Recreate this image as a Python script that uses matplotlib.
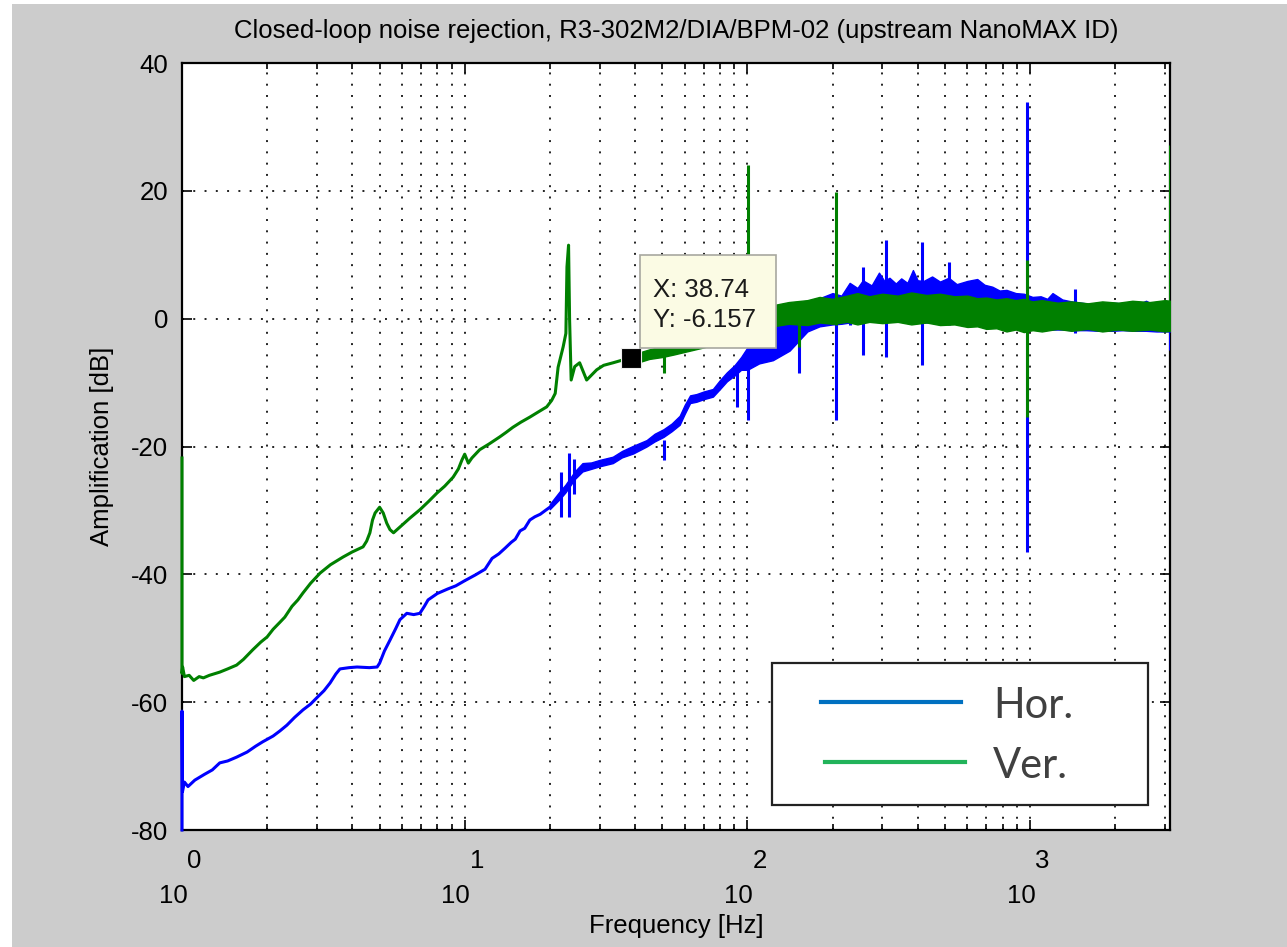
import matplotlib
matplotlib.use("Agg")
import matplotlib.pyplot as plt
import matplotlib.transforms as mtransforms
from matplotlib.patches import Rectangle
from matplotlib.lines import Line2D
from matplotlib.ticker import LogLocator, NullFormatter, FixedLocator

# ---------------- data ----------------
# Horizontal (Hor.) trace, low-frequency part
hor_f = [1.0, 1.0, 1.004, 1.02, 1.05, 1.11, 1.2, 1.28, 1.36, 1.45, 1.56, 1.7, 1.82, 1.93, 2.1,
         2.22, 2.35, 2.5, 2.68, 2.85, 3.0, 3.18, 3.34, 3.5, 3.62, 3.9, 4.16, 4.6, 4.9, 5.0,
         5.2, 5.44, 5.7, 5.9, 6.24, 6.6, 6.94, 7.2, 7.42, 8.0, 8.7, 9.3, 10.0, 10.9, 11.8,
         12.5, 13.2, 13.9, 14.6, 15.1, 15.7, 16.3, 17.0, 17.7, 18.5, 19.3, 20.0]
hor_db = [-80, -61.4, -74.0, -72.5, -73.2, -72.2, -71.3, -70.6, -69.5, -69.2, -68.6, -67.8, -66.9, -66.2, -65.3,
          -64.5, -63.6, -62.4, -61.2, -60.3, -59.3, -58.2, -57.0, -55.6, -54.8, -54.6, -54.5, -54.6, -54.5, -53.9,
          -52.0, -50.3, -48.5, -47.1, -46.1, -46.3, -46.1, -45.0, -44.0, -43.0, -42.3, -41.8, -41.0, -40.1, -39.2,
          -37.5, -36.8, -35.9, -35.0, -34.5, -33.2, -32.8, -31.5, -31.0, -30.6, -30.0, -29.5]

# Horizontal noise band (lower / upper envelope)
hor_band_f = [20, 21.7, 22.7, 24.5, 26.1, 28, 30, 33.4, 36, 39.4, 44, 47, 50.5, 54, 57.6,
              60, 62.7, 66, 70, 75.5, 80, 84.6, 90, 95, 100, 110, 123, 141, 163, 180,
              200, 215, 230, 245, 256, 275, 292, 305, 318, 335, 350, 368, 385, 400, 420,
              450, 480, 515, 550, 600, 650, 690, 735, 780, 825, 890, 950, 1020, 1090, 1150,
              1200, 1300, 1400, 1580, 1750, 1950, 2130, 2350, 2570, 2800, 3000, 3125]
hor_band_lo = [-29.8, -28.2, -27.2, -25.1, -23.9, -23.5, -23.1, -22.6, -21.7, -21.1, -20.0, -19.2, -18.5, -17.6, -16.6,
               -14.9, -13.2, -13.0, -12.6, -12.2, -11.0, -9.8, -8.9, -8.0, -8.0, -7.0, -6.5, -5.0, -2.0, -1.2,
               -0.9, -0.8, -0.6, -0.5, -0.5, -0.4, -0.4, -0.4, -0.4, -0.4, -0.4, -0.5, -0.5, -0.5, -0.6,
               -0.6, -0.7, -0.8, -0.8, -0.9, -1.0, -1.1, -1.2, -1.3, -1.3, -1.4, -1.4, -1.5, -1.6, -1.6,
               -1.7, -1.7, -1.8, -1.8, -1.9, -1.9, -1.8, -1.9, -1.9, -2.0, -2.0, -2.0]
hor_band_hi = [-29.0, -27.0, -26.0, -23.9, -22.6, -22.5, -22.1, -21.6, -20.7, -19.9, -19.0, -18.0, -17.3, -16.4, -15.2,
               -13.5, -12.0, -11.8, -11.4, -11.0, -9.6, -8.4, -7.3, -6.0, -4.5, -3.5, -0.5, 0.8, 2.5, 3.2,
               4.0, 3.6, 5.6, 4.8, 6.0, 5.2, 7.2, 5.9, 6.4, 5.5, 6.3, 5.6, 7.6, 6.0, 5.9,
               6.6, 5.8, 6.4, 5.4, 5.9, 6.2, 5.3, 5.0, 4.4, 4.5, 4.0, 3.9, 3.4, 3.5, 3.1,
               4.0, 3.0, 2.7, 2.4, 2.1, 2.5, 2.4, 2.0, 2.8, 1.9, 1.7, 1.7]

# Horizontal narrow spikes
hor_spike_f = [21.9, 23.4, 24.3, 50.5, 91.6, 100.5, 152, 206, 230, 256, 309, 413, 516, 975, 1440, 3125]
hor_spike_lo = [-31.0, -31.0, -27.5, -22.1, -13.8, -15.9, -8.5, -15.9, -1.0, -5.7, -6.0, -7.2, -1.0, -36.5, -2.2, -4.9]
hor_spike_hi = [-24.0, -21.0, -22.0, -19.0, -8.0, -6.0, -1.0, 4.0, 5.5, 8.1, 12.3, 12.0, 8.9, 33.9, 4.7, 1.3]

# Vertical (Ver.) trace, low-frequency part
ver_f = [1.0, 1.0, 1.005, 1.02, 1.06, 1.1, 1.15, 1.19, 1.25, 1.36, 1.45, 1.56, 1.65, 1.78, 1.9,
         2.0, 2.1, 2.22, 2.31, 2.45, 2.57, 2.68, 2.85, 3.08, 3.35, 3.71, 4.0, 4.37, 4.5, 4.62,
         4.72, 4.82, 5.0, 5.15, 5.3, 5.44, 5.6, 5.9, 6.4, 6.94, 7.45, 7.97, 8.5, 9.1, 9.5,
         9.78, 10.0, 10.3, 10.6, 11.3, 12.2, 13.3, 14.0, 14.8, 15.8, 17.0, 18.2, 19.5, 20.3, 20.9,
         21.4, 22.3, 22.8, 23.0, 23.3, 23.5, 23.8, 24.5, 25.5, 27.0, 29.3, 31.0, 33.5, 36.0, 38.74,
         42.0, 45.0]
ver_db = [-21.8, -55.5, -54.5, -56.0, -55.8, -56.6, -56.0, -56.2, -55.8, -55.3, -54.8, -54.2, -53.3, -51.8, -50.6,
          -49.8, -48.6, -47.5, -46.7, -45.0, -44.0, -42.9, -41.4, -39.8, -38.5, -37.3, -36.5, -35.7, -34.8, -33.5,
          -31.5, -30.4, -29.5, -30.4, -32.0, -33.0, -33.5, -32.6, -31.2, -29.9, -28.6, -27.3, -26.2, -24.8, -23.5,
          -22.1, -21.2, -22.6, -21.8, -20.5, -19.6, -18.5, -17.8, -17.0, -16.2, -15.4, -14.6, -13.8, -12.8, -11.7,
          -7.6, -4.4, -2.3, 8.1, 11.5, -0.2, -9.6, -7.5, -6.9, -9.6, -8.0, -7.3, -6.9, -6.5, -6.157,
          -5.8, -5.4]

# Vertical noise band
ver_band_f = [40, 45, 50, 55, 60, 70, 80, 90, 100, 110, 123, 140, 163, 180, 200,
              225, 245, 270, 300, 340, 380, 430, 480, 540, 600, 650, 700, 760, 825, 890,
              950, 1020, 1100, 1250, 1400, 1600, 1800, 2050, 2300, 2650, 3000, 3125]
ver_band_lo = [-7.0, -6.3, -6.0, -5.6, -5.2, -4.5, -3.8, -3.0, -2.3, -1.8, -1.2, -0.8, -1.0, -0.6, -0.8,
               -0.5, -0.9, -0.5, -0.7, -0.5, -0.9, -0.6, -1.0, -0.9, -1.3, -1.2, -1.6, -1.5, -2.0, -1.7,
               -2.1, -1.8, -2.0, -1.6, -1.9, -1.6, -2.0, -1.7, -1.9, -1.7, -2.0, -1.9]
ver_band_hi = [-5.5, -4.8, -4.3, -3.8, -3.3, -2.5, -1.8, -0.8, 0.0, 1.0, 2.1, 2.6, 2.9, 3.4, 3.1,
               3.6, 4.0, 3.5, 3.9, 3.6, 4.1, 3.7, 3.9, 3.5, 3.6, 3.2, 3.3, 3.0, 3.2, 2.9,
               3.1, 2.7, 2.9, 2.5, 2.7, 2.4, 2.7, 2.5, 2.8, 2.6, 2.9, 2.8]

# Vertical narrow spikes
ver_spike_f = [50.5, 100.5, 152, 206, 975, 3125]
ver_spike_lo = [-8.5, -3.0, -4.4, -1.0, -15.4, 0.0]
ver_spike_hi = [-5.0, 24.0, 2.0, 19.8, 9.2, 27.2]

# data tip
tip_x = 38.74
tip_y = -6.157

# axes / ticks
x_min, x_max = 1, 3125
y_min, y_max = -80, 40
xtick_vals = [1, 10, 100, 1000]
xtick_exps = ["0", "1", "2", "3"]
ytick_vals = [-80, -60, -40, -20, 0, 20, 40]

title_text = "Closed-loop noise rejection, R3-302M2/DIA/BPM-02 (upstream NanoMAX ID)"
legend_labels = ["Hor.", "Ver."]

# ---------------- styling ----------------
plt.rcParams['font.family'] = ['Liberation Sans', 'DejaVu Sans']
BLUE = '#0000ff'
GREEN = '#008000'
FS = 18.5
LW = 2.2

W, H = 1287, 947
fig = plt.figure(figsize=(W / 100, H / 100), dpi=100, facecolor='white')
fig.patches.append(Rectangle((12 / W, 0), 1, (H - 4) / H, transform=fig.transFigure,
                             facecolor='#cccccc', edgecolor='none', zorder=-10))

ax_l, ax_r, ax_t, ax_b = 182, 1170, 63, 830
ax = fig.add_axes([ax_l / W, (H - ax_b) / H, (ax_r - ax_l) / W, (ax_b - ax_t) / H])
ax.set_facecolor('white')

# Hor.
ax.plot(hor_f, hor_db, color=BLUE, lw=LW, zorder=3, clip_on=False)
ax.fill_between(hor_band_f, hor_band_lo, hor_band_hi, color=BLUE, lw=1.0, zorder=3)
ax.vlines(hor_spike_f, hor_spike_lo, hor_spike_hi, colors=BLUE, lw=LW, zorder=3)
# Ver.
ax.plot(ver_f, ver_db, color=GREEN, lw=LW, zorder=4, clip_on=False)
ax.fill_between(ver_band_f, ver_band_lo, ver_band_hi, color=GREEN, lw=1.0, zorder=4)
ax.vlines(ver_spike_f, ver_spike_lo, ver_spike_hi, colors=GREEN, lw=LW, zorder=4)

ax.set_xscale('log')
ax.set_xlim(x_min, x_max)
ax.set_ylim(y_min, y_max)

ax.xaxis.set_major_locator(FixedLocator(xtick_vals))
ax.xaxis.set_minor_locator(LogLocator(base=10, subs=range(2, 10), numticks=20))
ax.xaxis.set_minor_formatter(NullFormatter())
ax.set_xticklabels([''] * len(xtick_vals))
ax.set_yticks(ytick_vals)
ax.set_yticklabels([str(v) for v in ytick_vals])

ax.tick_params(which='both', direction='in', top=True, right=True, width=1.2, colors='black')
ax.tick_params(which='major', length=7, labelsize=FS, pad=10)
ax.tick_params(which='minor', length=4)

dots = (0, (1, 4.8))
ax.grid(True, which='major', axis='both', color='#222222', lw=1.4, linestyle=dots, zorder=2)
ax.grid(True, which='minor', axis='x', color='#222222', lw=1.4, linestyle=dots, zorder=2)
for s in ax.spines.values():
    s.set_linewidth(1.6)
    s.set_zorder(2.5)

# MATLAB style 10^n tick labels (base below, exponent above-right)
blend = mtransforms.blended_transform_factory(ax.transData, ax.transAxes)
for v, e in zip(xtick_vals, xtick_exps):
    t_base = mtransforms.offset_copy(blend, fig=fig, x=-9, y=0, units='dots')
    t_exp = mtransforms.offset_copy(blend, fig=fig, x=12, y=0, units='dots')
    ax.text(v, (ax_b - 896) / (ax_b - ax_t), "10", transform=t_base, ha='center', va='center',
            fontsize=FS, clip_on=False)
    ax.text(v, (ax_b - 861) / (ax_b - ax_t), e, transform=t_exp, ha='center', va='center',
            fontsize=FS, clip_on=False)

ax.set_xlabel("Frequency [Hz]", fontsize=FS)
ax.xaxis.set_label_coords(0.5, (ax_b - 914) / (ax_b - ax_t))
ax.set_ylabel("Amplification [dB]", fontsize=FS)
ax.yaxis.set_label_coords((114 - ax_l) / (ax_r - ax_l), 0.5)
ax.set_title(title_text, fontsize=FS, pad=18)

# data tip
ax.plot([tip_x], [tip_y], marker='s', ms=14, color='black', mec='#eeeeee', mew=0.8, zorder=8,
        clip_on=False)


def axfx(px):
    return (px - ax_l) / (ax_r - ax_l)


def axfy(py):
    return (ax_b - py) / (ax_b - ax_t)


ax.add_patch(Rectangle((axfx(640), axfy(348)), axfx(776) - axfx(640), axfy(255) - axfy(348),
                       transform=ax.transAxes, facecolor='#fbfbe4', edgecolor='#a8a8a0', lw=1.2,
                       zorder=9, clip_on=False))
ax.text(axfx(653), axfy(297), f"X: {tip_x}", transform=ax.transAxes, fontsize=FS,
        color='#1a1a1a', ha='left', va='baseline', zorder=10)
ax.text(axfx(653), axfy(327), f"Y: {tip_y}", transform=ax.transAxes, fontsize=FS,
        color='#1a1a1a', ha='left', va='baseline', zorder=10)

# legend box (pasted style)
ax.add_patch(Rectangle((axfx(772), axfy(805)), axfx(1148) - axfx(772), axfy(663) - axfy(805),
                       transform=ax.transAxes, facecolor='white', edgecolor='#222222', lw=1.6,
                       zorder=11))
leg_colors = ['#0070C0', '#22B35A']
leg_line_x = [(821, 961), (825, 965)]
leg_y = [702, 762]
leg_base = [718, 778]
for lab, c, (x0, x1), yy, yb in zip(legend_labels, leg_colors, leg_line_x, leg_y, leg_base):
    ax.add_line(Line2D([axfx(x0), axfx(x1)], [axfy(yy), axfy(yy)], transform=ax.transAxes,
                       color=c, lw=3, zorder=12))
    ax.text(axfx(993), axfy(yb), lab, transform=ax.transAxes, fontsize=30, color='#404040',
            family=['Lato', 'DejaVu Sans'], ha='left', va='baseline', zorder=12)

fig.savefig('out.png', dpi=100, facecolor=fig.get_facecolor())
